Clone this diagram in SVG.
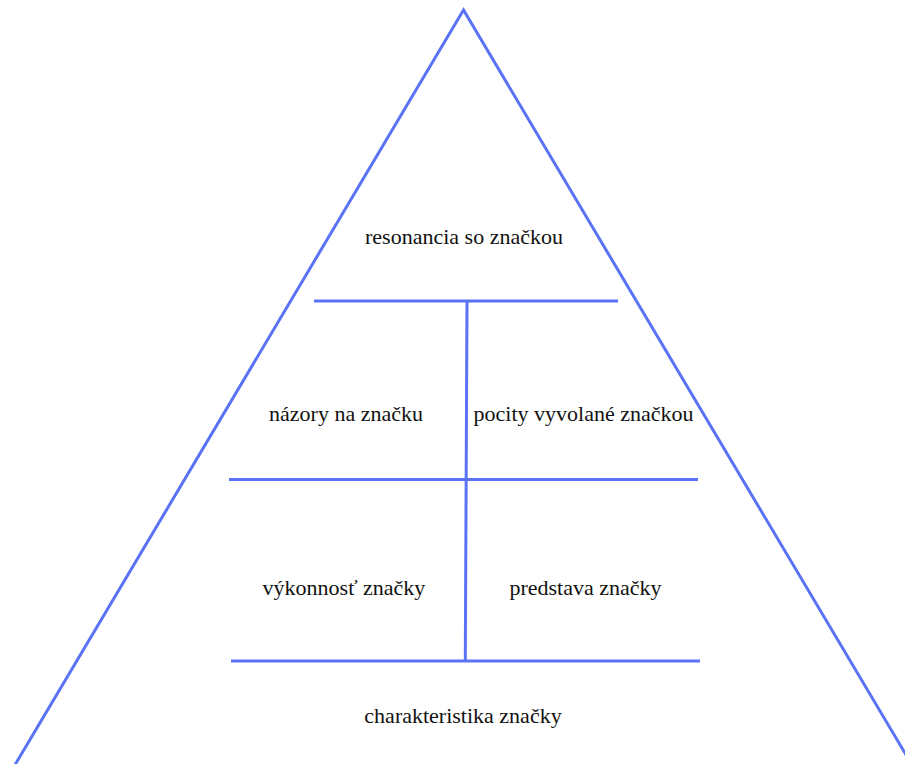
<svg xmlns="http://www.w3.org/2000/svg" width="905" height="764" viewBox="0 0 905 764">
<style>
.ln{stroke:#5a72f4;stroke-width:3;fill:none;stroke-linecap:butt}
.t{font-family:"Liberation Serif","Times New Roman",serif;font-size:22px;fill:#111111;text-anchor:middle}
</style>
<rect width="905" height="764" fill="#ffffff"/>
<g id="connectors">
<polygon class="ln" points="463.5,10 -3.5,796 930.5,796"/>
<line class="ln" x1="314" y1="301" x2="618" y2="301"/>
<line class="ln" x1="229" y1="479.5" x2="698" y2="479.5"/>
<line class="ln" x1="231" y1="661" x2="700" y2="661"/>
<line class="ln" x1="467" y1="301" x2="465.3" y2="661"/>
</g>
<g id="n-resonancia"><text class="t" x="464" y="244">resonancia so značkou</text></g>
<g id="n-nazory"><text class="t" x="346" y="421">názory na značku</text></g>
<g id="n-pocity"><text class="t" x="583.5" y="421">pocity vyvolané značkou</text></g>
<g id="n-vykonnost"><text class="t" x="344" y="595">výkonnosť značky</text></g>
<g id="n-predstava"><text class="t" x="585.5" y="595">predstava značky</text></g>
<g id="n-charakteristika"><text class="t" x="463" y="723">charakteristika značky</text></g>
</svg>
